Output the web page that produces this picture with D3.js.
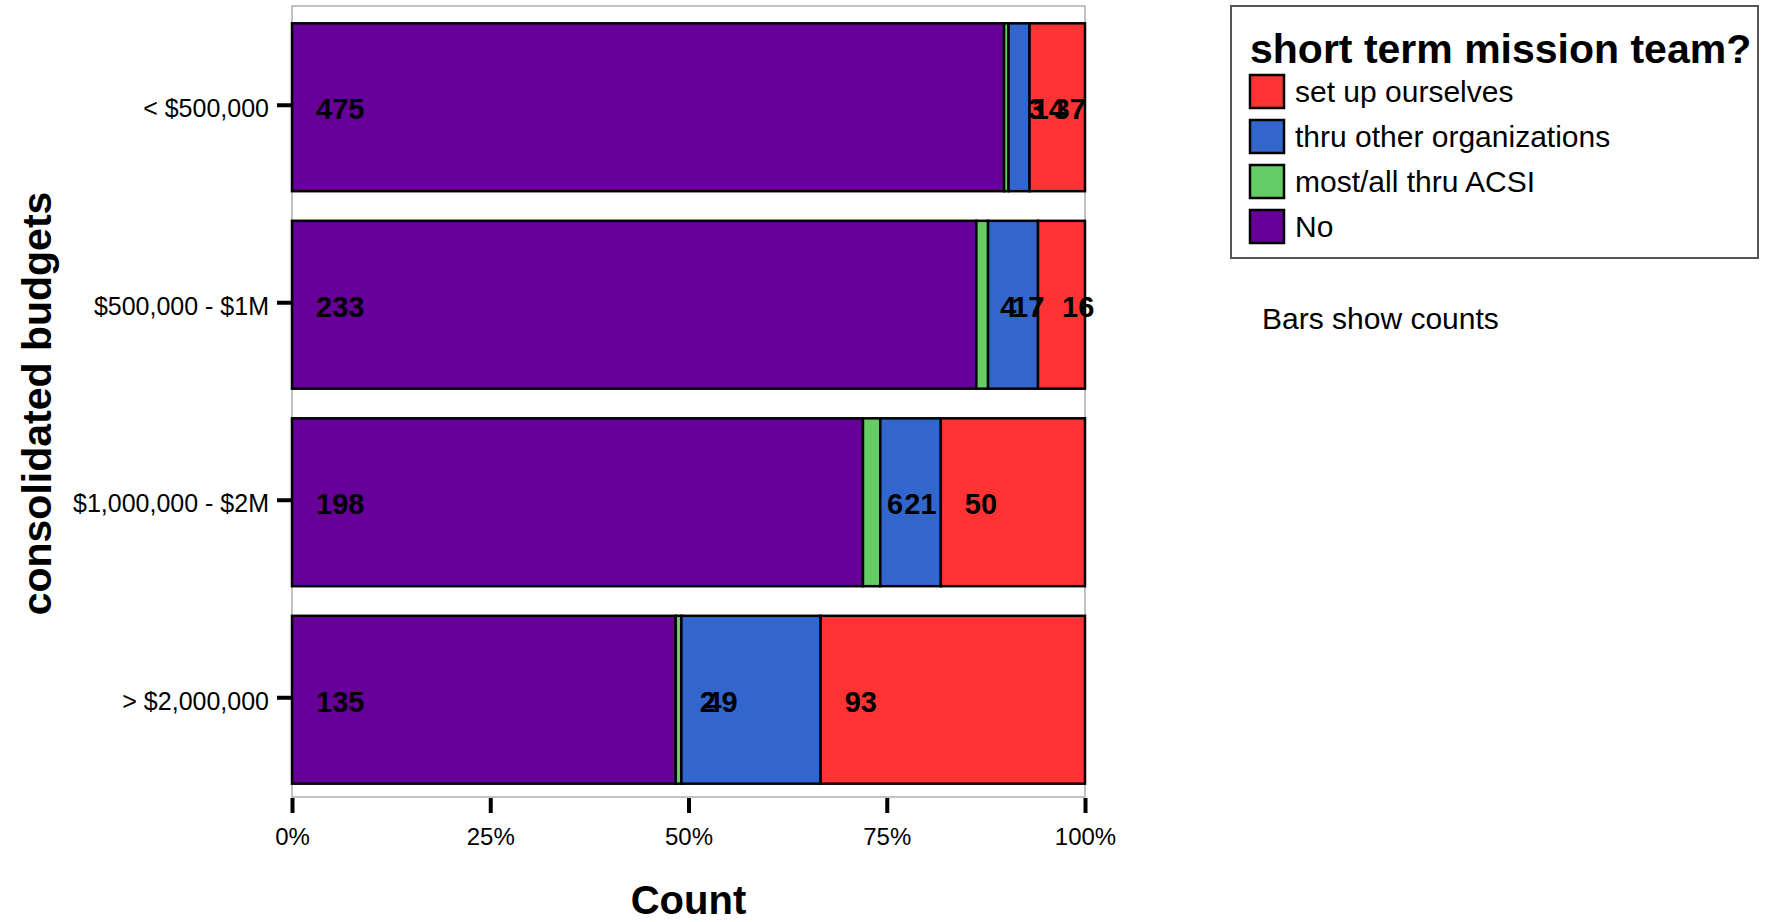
<!DOCTYPE html>
<html>
<head>
<meta charset="utf-8">
<script src="https://cdn.jsdelivr.net/npm/d3@7/dist/d3.min.js"></script>
<style>
  html, body { margin: 0; padding: 0; background: #fff; }
  svg { display: block; font-family: "Liberation Sans", Arial, sans-serif; }
</style>
</head>
<body>
<svg id="chart" width="1772" height="922"></svg>
<script>
// ---- data ----
const categories = ["< $500,000", "$500,000 - $1M", "$1,000,000 - $2M", "> $2,000,000"];
const seriesNames = ["No", "most/all thru ACSI", "thru other organizations", "set up ourselves"];
const noValues = [475, 233, 198, 135];
const acsiValues = [3, 4, 6, 2];
const otherOrgValues = [14, 17, 21, 49];
const ourselvesValues = [37, 16, 50, 93];
const xTickValues = [0, 0.25, 0.5, 0.75, 1];
const xTickLabels = ["0%", "25%", "50%", "75%", "100%"];
const seriesColors = ["#660099", "#66CC66", "#3366CC", "#FF3333"];

const seriesValues = [noValues, acsiValues, otherOrgValues, ourselvesValues];

const svg = d3.select("#chart");

const plotLeft = 292, plotRight = 1085, plotTop = 6, plotBottom = 797;

const x = d3.scaleLinear().domain([0, 1]).range([plotLeft, plotRight]);
const y = d3.scaleBand().domain(categories).range([plotTop + 2.5, plotBottom + 1.5])
  .paddingInner(0.15).paddingOuter(0.075);
const color = d3.scaleOrdinal().domain(seriesNames).range(seriesColors);

// rows table built from arrays
const rows = categories.map((c, i) => {
  const r = { category: c };
  seriesNames.forEach((s, j) => r[s] = seriesValues[j][i]);
  return r;
});
const stack = d3.stack().keys(seriesNames).offset(d3.stackOffsetExpand);
const stacked = stack(rows);

// frame
svg.append("rect")
  .attr("x", plotLeft).attr("y", plotTop)
  .attr("width", plotRight - plotLeft).attr("height", plotBottom - plotTop)
  .attr("fill", "none").attr("stroke", "#999").attr("stroke-width", 1.2);

// bars
const layers = svg.append("g").selectAll("g").data(stacked).join("g")
  .attr("fill", d => color(d.key));
layers.selectAll("rect").data(d => d).join("rect")
  .attr("x", d => x(d[0]))
  .attr("y", d => y(d.data.category))
  .attr("width", d => x(d[1]) - x(d[0]))
  .attr("height", y.bandwidth())
  .attr("stroke", "#000").attr("stroke-width", 2.5);

// value labels
const labelG = svg.append("g");
stacked.forEach(layer => {
  layer.forEach(d => {
    labelG.append("text")
      .attr("x", x(d[0]) + 24)
      .attr("y", y(d.data.category) + y.bandwidth() / 2 + 2)
      .attr("dominant-baseline", "central")
      .attr("font-size", 29).attr("font-weight", "bold")
      .attr("fill", "#000")
      .text(d.data[layer.key]);
  });
});

// x axis
const xAxis = d3.axisBottom(x).tickValues(xTickValues)
  .tickFormat((d, i) => xTickLabels[i]).tickSize(15).tickPadding(15);
const gx = svg.append("g").attr("transform", `translate(0,${plotBottom + 1})`).call(xAxis);
gx.select(".domain").remove();
gx.selectAll(".tick line").attr("stroke", "#000").attr("stroke-width", 4);
gx.selectAll(".tick text").attr("font-size", 24).attr("fill", "#000")
  .attr("font-family", "Liberation Sans, Arial, sans-serif");

// y axis
const yAxis = d3.axisLeft(y).tickSize(15).tickPadding(8);
const gy = svg.append("g").attr("transform", `translate(${plotLeft},0)`).call(yAxis);
gy.select(".domain").remove();
gy.selectAll(".tick line").attr("stroke", "#000").attr("stroke-width", 4)
  .attr("transform", "translate(0,-2)");
gy.selectAll(".tick text").attr("font-size", 25).attr("fill", "#000")
  .attr("font-family", "Liberation Sans, Arial, sans-serif")
  .attr("transform", "translate(0,2)");

// axis titles
svg.append("text")
  .attr("x", (plotLeft + plotRight) / 2).attr("y", 900)
  .attr("text-anchor", "middle").attr("dominant-baseline", "central")
  .attr("font-size", 40).attr("font-weight", "bold").text("Count");
svg.append("text")
  .attr("transform", `translate(37,${(plotTop + plotBottom) / 2 + 2}) rotate(-90)`)
  .attr("text-anchor", "middle").attr("dominant-baseline", "central")
  .attr("font-size", 41).attr("font-weight", "bold").text("consolidated budgets");

// legend
const legend = svg.append("g");
legend.append("rect")
  .attr("x", 1231).attr("y", 6).attr("width", 527).attr("height", 252)
  .attr("fill", "#fff").attr("stroke", "#555").attr("stroke-width", 2);
legend.append("text")
  .attr("x", 1250).attr("y", 63)
  .attr("font-size", 41).attr("font-weight", "bold").text("short term mission team?");
const legendOrder = seriesNames.slice().reverse();
legendOrder.forEach((s, i) => {
  const cy = 91 + i * 45;
  legend.append("rect")
    .attr("x", 1250).attr("y", cy - 16).attr("width", 34).attr("height", 33)
    .attr("fill", color(s)).attr("stroke", "#000").attr("stroke-width", 2.5);
  legend.append("text")
    .attr("x", 1295).attr("y", cy)
    .attr("dominant-baseline", "central")
    .attr("font-size", 30).text(s);
});

svg.append("text")
  .attr("x", 1262).attr("y", 318)
  .attr("dominant-baseline", "central")
  .attr("font-size", 30).text("Bars show counts");
</script>
</body>
</html>
